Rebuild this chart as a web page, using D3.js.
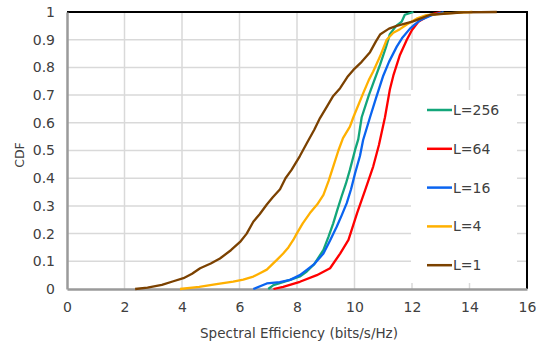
<!DOCTYPE html>
<html>
<head>
<meta charset="utf-8">
<script src="https://cdn.jsdelivr.net/npm/d3@7"></script>
<style>
  html, body { margin: 0; padding: 0; background: #fff; }
  text { font-family: "DejaVu Sans", Verdana, sans-serif; fill: #404040; }
</style>
</head>
<body>
<div id="chart"></div>
<script>
// series labels and colours, in drawing order (last one on top)
const seriesNames = ['L=256', 'L=64', 'L=16', 'L=4', 'L=1'];
const seriesColors = ['#13a67a', '#ff0000', '#0a64f0', '#ffb000', '#7b4100'];

// [spectral efficiency, CDF]
const l256 = [[7.0,0],[7.18,0.014],[7.76,0.033],[8.1,0.045],[8.34,0.063],[8.6,0.09],[8.92,0.141],[9.1,0.19],[9.26,0.237],[9.4,0.285],[9.55,0.334],[9.7,0.38],[9.84,0.43],[10.02,0.502],[10.13,0.54],[10.25,0.62],[10.5,0.7],[10.65,0.742],[10.89,0.81],[11.1,0.875],[11.23,0.92],[11.45,0.95],[11.64,0.965],[11.75,0.99],[12.05,1.0]];
const l64 = [[7.18,0],[7.52,0.008],[8.1,0.026],[8.69,0.05],[9.15,0.075],[9.5,0.128],[9.79,0.177],[10.09,0.274],[10.37,0.357],[10.65,0.442],[10.85,0.52],[11.06,0.62],[11.23,0.72],[11.35,0.77],[11.58,0.845],[11.82,0.9],[12.0,0.935],[12.22,0.965],[12.5,0.982],[12.73,0.993],[13.0,1.0]];
const l16 = [[6.48,0],[6.95,0.02],[7.4,0.025],[7.76,0.033],[8.1,0.05],[8.34,0.069],[8.6,0.09],[8.92,0.128],[9.15,0.175],[9.38,0.225],[9.55,0.265],[9.73,0.31],[9.88,0.36],[10.02,0.418],[10.19,0.48],[10.3,0.538],[10.54,0.62],[10.75,0.69],[11.0,0.77],[11.2,0.82],[11.47,0.875],[11.65,0.905],[11.93,0.94],[12.1,0.955],[12.28,0.97],[12.73,0.99],[13.1,1.0]];
const l4 = [[3.93,0],[4.6,0.008],[5.2,0.018],[5.78,0.027],[6.13,0.034],[6.48,0.045],[6.71,0.057],[6.95,0.07],[7.12,0.087],[7.3,0.105],[7.52,0.128],[7.7,0.15],[7.87,0.177],[7.99,0.2],[8.2,0.237],[8.45,0.274],[8.7,0.305],[8.92,0.34],[9.1,0.39],[9.26,0.442],[9.44,0.5],[9.6,0.545],[9.84,0.586],[9.96,0.62],[10.3,0.706],[10.5,0.755],[10.65,0.785],[10.89,0.84],[11.12,0.9],[11.35,0.925],[11.58,0.938],[11.82,0.955],[12.16,0.976],[12.5,0.989],[13.2,0.995],[13.8,0.999],[14.1,1.0]];
const l1 = [[2.37,0],[2.8,0.005],[3.3,0.015],[3.7,0.028],[4.05,0.039],[4.35,0.055],[4.63,0.075],[5.0,0.092],[5.32,0.11],[5.7,0.14],[6.02,0.17],[6.25,0.2],[6.48,0.243],[6.7,0.27],[6.95,0.305],[7.15,0.33],[7.41,0.36],[7.6,0.4],[7.81,0.43],[8.1,0.48],[8.34,0.526],[8.6,0.575],[8.8,0.617],[9.05,0.66],[9.26,0.697],[9.5,0.725],[9.75,0.765],[9.96,0.791],[10.25,0.82],[10.54,0.855],[10.75,0.895],[10.9,0.92],[11.2,0.94],[11.47,0.95],[12.04,0.966],[12.63,0.99],[13.8,0.999],[14.95,1.0]];
const seriesData = [l256, l64, l16, l4, l1];

const xTicks = [0, 2, 4, 6, 8, 10, 12, 14, 16];
const yTicks = [0, 0.1, 0.2, 0.3, 0.4, 0.5, 0.6, 0.7, 0.8, 0.9, 1];

const width = 536, height = 347;
const margin = { top: 12, right: 9, bottom: 58, left: 67 };
const innerW = width - margin.left - margin.right;
const innerH = height - margin.top - margin.bottom;

const svg = d3.select('#chart').append('svg')
  .attr('width', width)
  .attr('height', height);

const g = svg.append('g').attr('transform', `translate(${margin.left},${margin.top})`);

const x = d3.scaleLinear().domain([0, 16]).range([0, innerW]);
const y = d3.scaleLinear().domain([0, 1]).range([innerH, 0]);

// gridlines
g.append('g').selectAll('line')
  .data(xTicks.filter(d => d > 0 && d < 16))
  .enter().append('line')
  .attr('x1', d => x(d)).attr('x2', d => x(d))
  .attr('y1', 0).attr('y2', innerH)
  .attr('stroke', '#d9d9d9').attr('stroke-width', 1.5);

g.append('g').selectAll('line')
  .data(yTicks.filter(d => d > 0 && d < 1))
  .enter().append('line')
  .attr('x1', 0).attr('x2', innerW)
  .attr('y1', d => y(d)).attr('y2', d => y(d))
  .attr('stroke', '#d9d9d9').attr('stroke-width', 1.5);

// top / right frame in black
g.append('path')
  .attr('d', `M0,0H${innerW}V${innerH}`)
  .attr('fill', 'none').attr('stroke', '#000').attr('stroke-width', 2);

// axes
const xAxis = g.append('g')
  .attr('transform', `translate(0,${innerH})`)
  .call(d3.axisBottom(x).tickValues(xTicks).tickSize(0).tickPadding(13));
const yAxis = g.append('g')
  .call(d3.axisLeft(y).tickValues(yTicks).tickSize(0).tickPadding(12).tickFormat(d3.format('~g')));

[xAxis, yAxis].forEach(a => {
  a.select('.domain').attr('stroke', '#9a9a9a').attr('stroke-width', 2.5);
  a.selectAll('text').attr('font-size', 14).attr('fill', '#404040')
    .style('font-family', '"DejaVu Sans", Verdana, sans-serif');
});

// legend box (drawn below the curves, they do not reach it)
const legend = g.append('g');
legend.append('rect')
  .attr('x', 344).attr('y', 78).attr('width', 106).attr('height', 193)
  .attr('fill', '#fff');

// curves
const line = d3.line()
  .x(d => x(d[0]))
  .y(d => y(d[1]));

g.append('g').selectAll('path')
  .data(seriesData)
  .enter().append('path')
  .attr('d', line)
  .attr('fill', 'none')
  .attr('stroke', (d, i) => seriesColors[i])
  .attr('stroke-width', 2.3)
  .attr('stroke-linejoin', 'round');

const items = legend.selectAll('g.item')
  .data(seriesNames)
  .enter().append('g')
  .attr('class', 'item')
  .attr('transform', (d, i) => `translate(360,${98 + i * 38.8})`);

items.append('line')
  .attr('x1', 0).attr('x2', 25)
  .attr('stroke', (d, i) => seriesColors[i])
  .attr('stroke-width', 2.5);

items.append('text')
  .attr('x', 26).attr('dy', '0.36em')
  .attr('font-size', 14)
  .text(d => d);

// axis titles
svg.append('text')
  .attr('x', 299).attr('y', 338)
  .attr('text-anchor', 'middle')
  .attr('font-size', 13.5)
  .text('Spectral Efficiency (bits/s/Hz)');

svg.append('text')
  .attr('transform', `translate(24,155) rotate(-90)`)
  .attr('text-anchor', 'middle')
  .attr('font-size', 12.5)
  .text('CDF');
</script>
</body>
</html>
